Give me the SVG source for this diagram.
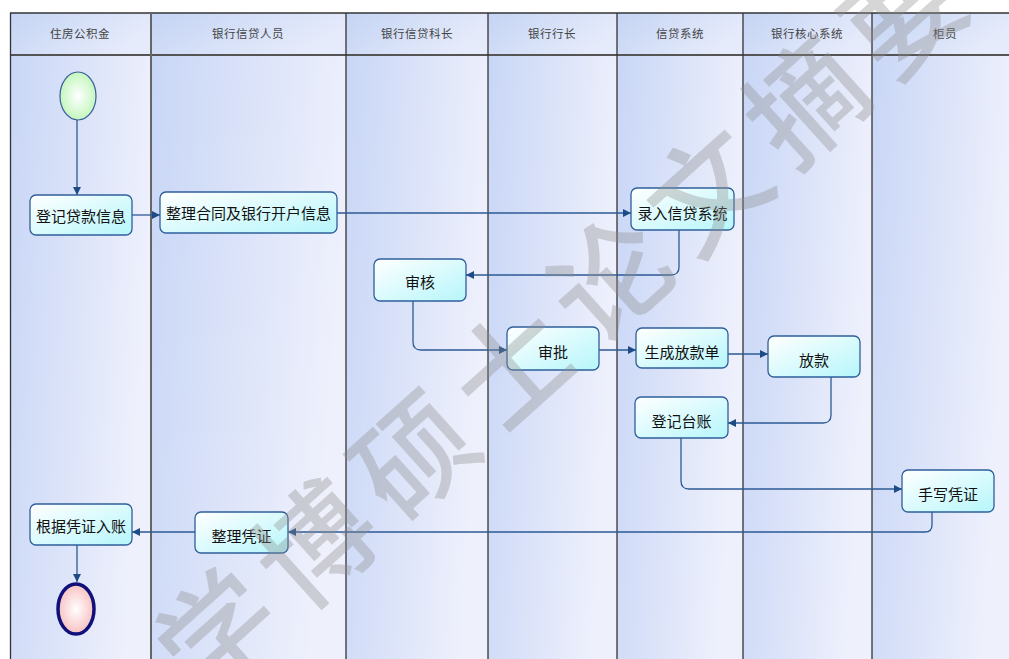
<svg xmlns="http://www.w3.org/2000/svg" width="1009" height="659" viewBox="0 0 1009 659">
<defs>
<linearGradient id="lane" x1="0" y1="0" x2="1" y2="0.25">
<stop offset="0" stop-color="#c8d6f6"/>
<stop offset="1" stop-color="#eef0fc"/>
</linearGradient>
<linearGradient id="head" x1="0" y1="0" x2="1" y2="0.4">
<stop offset="0" stop-color="#c4d4f4"/>
<stop offset="1" stop-color="#e6ebfb"/>
</linearGradient>
<linearGradient id="node" x1="0" y1="0" x2="1" y2="1">
<stop offset="0" stop-color="#ffffff"/>
<stop offset="1" stop-color="#b6f6fb"/>
</linearGradient>
<radialGradient id="startG" cx="0.5" cy="0.5" r="0.6">
<stop offset="0" stop-color="#ffffff"/>
<stop offset="1" stop-color="#b8f5b0"/>
</radialGradient>
<radialGradient id="endG" cx="0.5" cy="0.5" r="0.6">
<stop offset="0" stop-color="#ffffff"/>
<stop offset="1" stop-color="#f7b5b5"/>
</radialGradient>
<marker id="arr" viewBox="0 0 10 10" refX="10" refY="5" markerWidth="8" markerHeight="8" markerUnits="userSpaceOnUse" orient="auto">
<path d="M0,0 L10,5 L0,10 z" fill="#1d4b86"/>
</marker>
<style>
.hd{font-family:"Noto Sans CJK SC","Noto Sans",sans-serif;font-size:11.5px;fill:#444;text-anchor:middle;letter-spacing:0.5px}
.nt{font-family:"Noto Sans CJK SC","Noto Sans",sans-serif;font-size:15px;fill:#111;text-anchor:middle;dominant-baseline:central}
.box{fill:url(#node);stroke:#2f5f9a;stroke-width:1.3}
.ln{fill:none;stroke:#2d5a94;stroke-width:1.3;marker-end:url(#arr)}
.div{stroke:#333;stroke-width:1.3}
.wm{font-family:"Noto Sans CJK SC",sans-serif;font-size:116px;font-weight:500;fill:#8c8c8c;fill-opacity:0.36;letter-spacing:16px}
</style>
</defs>
<rect width="1009" height="659" fill="#ffffff"/>
<g id="lanes">
<rect x="10" y="55" width="141" height="604" fill="url(#lane)"/>
<rect x="151" y="55" width="195" height="604" fill="url(#lane)"/>
<rect x="346" y="55" width="142" height="604" fill="url(#lane)"/>
<rect x="488" y="55" width="129" height="604" fill="url(#lane)"/>
<rect x="617" y="55" width="126" height="604" fill="url(#lane)"/>
<rect x="743" y="55" width="129" height="604" fill="url(#lane)"/>
<rect x="872" y="55" width="137" height="604" fill="url(#lane)"/>
<rect x="10" y="13" width="141" height="42" fill="url(#head)"/>
<rect x="151" y="13" width="195" height="42" fill="url(#head)"/>
<rect x="346" y="13" width="142" height="42" fill="url(#head)"/>
<rect x="488" y="13" width="129" height="42" fill="url(#head)"/>
<rect x="617" y="13" width="126" height="42" fill="url(#head)"/>
<rect x="743" y="13" width="129" height="42" fill="url(#head)"/>
<rect x="872" y="13" width="137" height="42" fill="url(#head)"/>
<line x1="10" y1="13" x2="1009" y2="13" class="div"/>
<line x1="10" y1="55" x2="1009" y2="55" stroke="#555" stroke-width="2"/>
<line x1="10.5" y1="13" x2="10.5" y2="659" class="div"/>
<line x1="151" y1="13" x2="151" y2="659" stroke="#666" stroke-width="2"/>
<line x1="346" y1="13" x2="346" y2="659" class="div"/>
<line x1="488" y1="13" x2="488" y2="659" class="div"/>
<line x1="617" y1="13" x2="617" y2="659" class="div"/>
<line x1="743" y1="13" x2="743" y2="659" class="div"/>
<line x1="872" y1="13" x2="872" y2="659" class="div"/>
<text x="80" y="38" class="hd">住房公积金</text>
<text x="248" y="38" class="hd">银行信贷人员</text>
<text x="417" y="38" class="hd">银行信贷科长</text>
<text x="552" y="38" class="hd">银行行长</text>
<text x="680" y="38" class="hd">信贷系统</text>
<text x="807" y="38" class="hd">银行核心系统</text>
<text x="945" y="38" class="hd">柜员</text>
</g>
<g id="connectors">
<path class="ln" d="M77,120 V195"/>
<path class="ln" d="M132,215 H160"/>
<path class="ln" d="M337,213 H631"/>
<path class="ln" d="M679,230 V267 Q679,275 671,275 H466"/>
<path class="ln" d="M413,301 V342 Q413,350 421,350 H507"/>
<path class="ln" d="M599,350 H636"/>
<path class="ln" d="M728,354 H768"/>
<path class="ln" d="M831,377 V415 Q831,423 823,423 H728"/>
<path class="ln" d="M681,438 V481 Q681,489 689,489 H902"/>
<path class="ln" d="M932,512 V525 Q932,532 925,532 H288"/>
<path class="ln" d="M195,532 H132"/>
<path class="ln" d="M77,545 V582"/>
</g>
<g id="start"><ellipse cx="78" cy="96" rx="18" ry="24" fill="url(#startG)" stroke="#3a5da0" stroke-width="1.2"/></g>
<g id="n1"><rect x="30" y="195" width="102" height="40" rx="6" class="box"/><text x="81" y="215" class="nt">登记贷款信息</text></g>
<g id="n2"><rect x="160" y="192" width="177" height="41" rx="6" class="box"/><text x="248.5" y="212.5" class="nt">整理合同及银行开户信息</text></g>
<g id="n3"><rect x="631" y="188" width="103" height="42" rx="6" class="box"/><text x="682.5" y="212" class="nt">录入信贷系统</text></g>
<g id="n4"><rect x="374" y="259" width="92" height="42" rx="6" class="box"/><text x="420" y="281" class="nt">审核</text></g>
<g id="n5"><rect x="507" y="327" width="92" height="43" rx="6" class="box"/><text x="553" y="351" class="nt">审批</text></g>
<g id="n6"><rect x="636" y="328" width="92" height="40" rx="6" class="box"/><text x="682" y="351" class="nt">生成放款单</text></g>
<g id="n7"><rect x="768" y="336" width="92" height="41" rx="6" class="box"/><text x="814" y="359" class="nt">放款</text></g>
<g id="n8"><rect x="635" y="397" width="93" height="41" rx="6" class="box"/><text x="681.5" y="420" class="nt">登记台账</text></g>
<g id="n9"><rect x="902" y="470" width="92" height="42" rx="6" class="box"/><text x="948" y="493" class="nt">手写凭证</text></g>
<g id="n10"><rect x="195" y="512" width="93" height="41" rx="6" class="box"/><text x="241.5" y="535" class="nt">整理凭证</text></g>
<g id="n11"><rect x="30" y="504" width="102" height="41" rx="6" class="box"/><text x="81" y="525" class="nt">根据凭证入账</text></g>
<g id="end"><ellipse cx="76" cy="609" rx="18" ry="25" fill="url(#endG)" stroke="#10107a" stroke-width="3.5"/></g>
<g id="watermark"><text x="0" y="0" class="wm" text-anchor="middle" dominant-baseline="central" transform="translate(562,312) rotate(-42)">学博硕士论文摘要</text></g>
</svg>
